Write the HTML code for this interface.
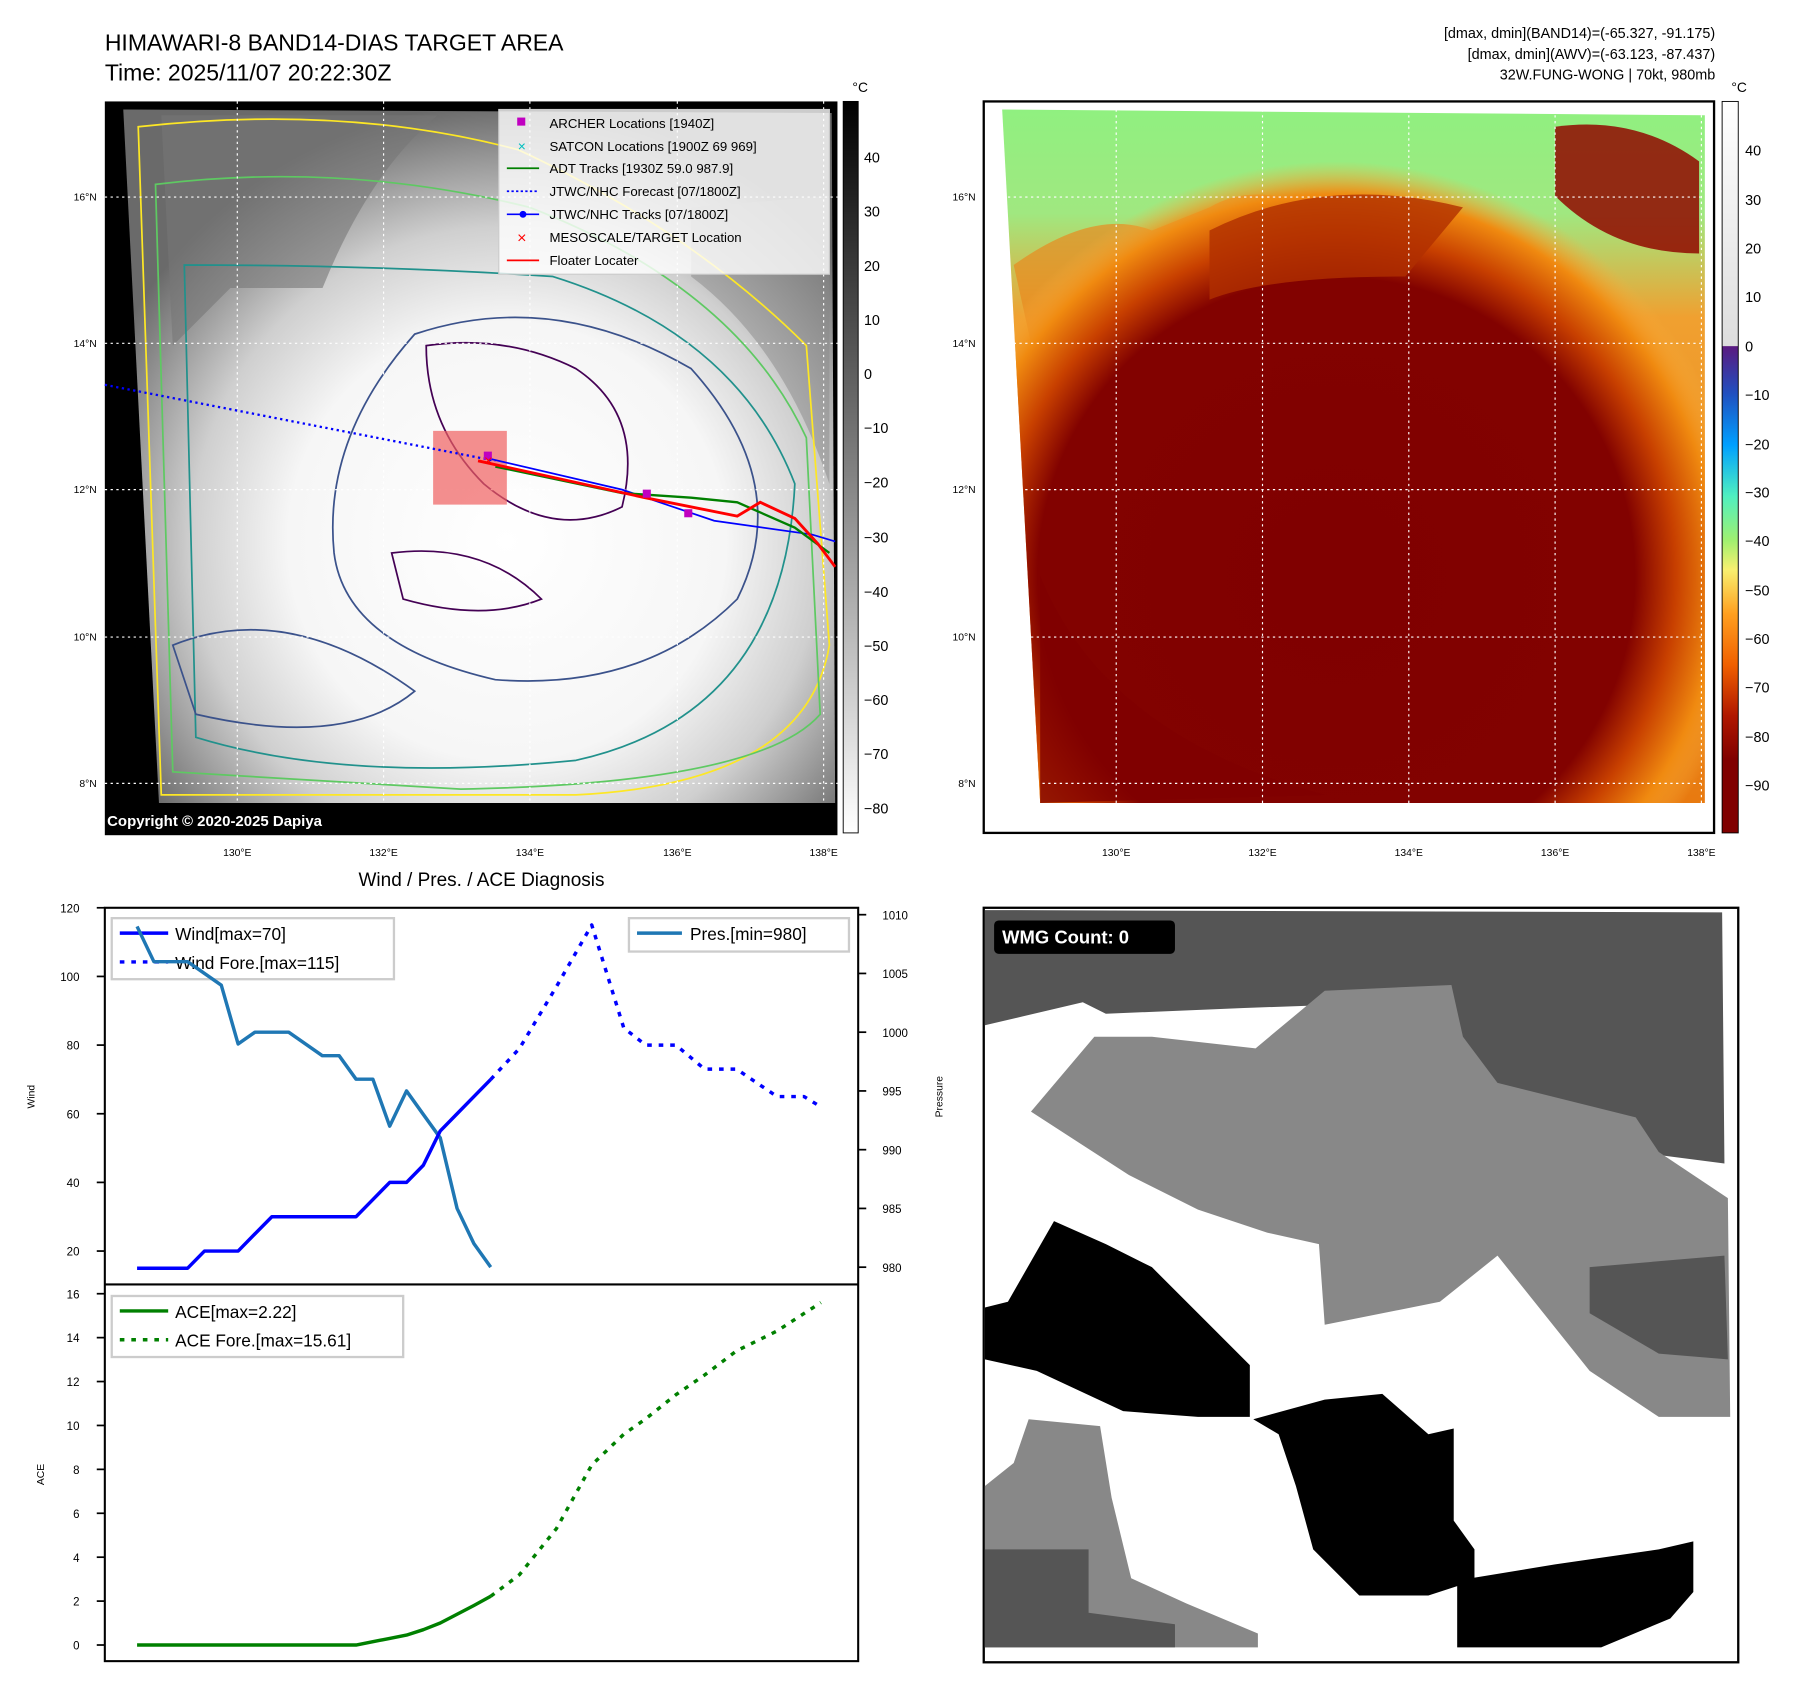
<!DOCTYPE html>
<html><head><meta charset="utf-8"><style>
html,body{margin:0;padding:0;background:#fff}
svg{display:block}
text{font-family:"Liberation Sans","DejaVu Sans",sans-serif}
</style></head><body>
<svg id="fig" xmlns="http://www.w3.org/2000/svg" width="1797" height="1690" viewBox="0 0 1560 1467">
<defs>
<radialGradient id="gsat" cx="440" cy="470" r="380" gradientUnits="userSpaceOnUse">
<stop offset="0" stop-color="#fff"/><stop offset="0.5" stop-color="#f6f6f6"/><stop offset="0.72" stop-color="#cfcfcf"/><stop offset="1" stop-color="#6a6a6a"/></radialGradient>
<linearGradient id="cbl" x1="0" y1="0" x2="0" y2="1"><stop offset="0" stop-color="#000"/><stop offset="1" stop-color="#fff"/></linearGradient>
<linearGradient id="cbr" x1="0" y1="0" x2="0" y2="1">
<stop offset="0" stop-color="#fff"/><stop offset="0.334" stop-color="#ddd"/><stop offset="0.335" stop-color="#5a1a80"/>
<stop offset="0.40" stop-color="#2050c0"/><stop offset="0.47" stop-color="#00a0ff"/><stop offset="0.54" stop-color="#50f0c0"/>
<stop offset="0.60" stop-color="#a0f070"/><stop offset="0.64" stop-color="#f8f070"/><stop offset="0.70" stop-color="#ffa020"/>
<stop offset="0.77" stop-color="#f06000"/><stop offset="0.84" stop-color="#b01800"/><stop offset="0.9" stop-color="#800000"/><stop offset="1" stop-color="#800000"/></linearGradient>
<radialGradient id="gir" cx="1160" cy="500" r="360" gradientUnits="userSpaceOnUse">
<stop offset="0" stop-color="#800000"/><stop offset="0.72" stop-color="#820200"/><stop offset="0.82" stop-color="#c84000"/><stop offset="0.92" stop-color="#f08a10"/><stop offset="1" stop-color="#f8b040" stop-opacity="0"/></radialGradient>
<linearGradient id="girtop" x1="0" y1="0" x2="0" y2="1"><stop offset="0" stop-color="#90f080"/><stop offset="0.15" stop-color="#a0e880"/><stop offset="0.3" stop-color="#f0a030"/><stop offset="1" stop-color="#e87a10"/></linearGradient>
</defs>

<g>
<text x="91" y="44" font-size="20">HIMAWARI-8 BAND14-DIAS TARGET AREA</text>
<text x="91" y="70" font-size="20">Time: 2025/11/07 20:22:30Z</text>
<rect x="91" y="88" width="636" height="637" fill="#000"/>
<polygon points="107,95 722,98 725,697 138,697" fill="url(#gsat)"/>
<path d="M140,100 L380,100 Q320,150 280,250 L200,250 L150,300 Z" fill="#777" opacity="0.6"/>
<path d="M600,180 L720,170 L720,420 Q680,300 600,240 Z" fill="#888" opacity="0.5"/>
<g fill="none" stroke-width="1.5">
<path d="M120,110 Q300,90 450,130 Q600,200 700,300 L720,560 Q700,680 500,690 L140,690 Z" stroke="#fde725"/>
<path d="M135,160 Q300,140 460,180 Q640,250 700,380 L712,620 Q660,680 400,685 L150,670 Z" stroke="#5ec962"/>
<path d="M160,230 Q330,230 480,240 Q640,290 690,420 Q680,620 500,660 Q300,680 170,640 Z" stroke="#21918c"/>
<path d="M360,290 Q480,250 600,320 Q690,420 640,520 Q560,600 430,590 Q300,560 290,480 Q280,380 360,290 Z" stroke="#3b528b"/>
<path d="M150,560 Q250,520 360,600 Q300,650 170,620 Z" stroke="#3b528b"/>
<path d="M370,300 Q440,290 500,320 Q560,360 540,440 Q480,470 420,420 Q370,370 370,300 Z" stroke="#440154"/>
<path d="M340,480 Q420,470 470,520 Q420,540 350,520 Z" stroke="#440154"/>
</g>
<g stroke="#fff" stroke-dasharray="2,3" stroke-width="1">
<line x1="206" y1="88" x2="206" y2="697"/><line x1="333" y1="88" x2="333" y2="697"/><line x1="460" y1="88" x2="460" y2="697"/><line x1="588" y1="88" x2="588" y2="697"/><line x1="715" y1="88" x2="715" y2="697"/>
<line x1="91" y1="171" x2="727" y2="171"/><line x1="91" y1="298" x2="727" y2="298"/><line x1="91" y1="425" x2="727" y2="425"/><line x1="91" y1="553" x2="727" y2="553"/><line x1="91" y1="680" x2="727" y2="680"/>
</g>
<rect x="376" y="374" width="64" height="64" fill="#f06060" opacity="0.7"/>
<line x1="91" y1="334" x2="430" y2="400" stroke="#0000ff" stroke-width="2" stroke-dasharray="2,3"/>
<polyline points="420,397 540,425 620,452 705,464 725,470" fill="none" stroke="#0000ff" stroke-width="1.5"/>
<polyline points="430,405 540,428 600,432 640,436 690,458 720,480" fill="none" stroke="#008000" stroke-width="2"/>
<polyline points="415,400 560,432 640,448 660,436 690,450 710,472 725,492" fill="none" stroke="#ff0000" stroke-width="2.5"/>
<rect x="558" y="425" width="7" height="7" fill="#c000c0"/><rect x="594" y="442" width="7" height="7" fill="#c000c0"/><rect x="420" y="392" width="7" height="7" fill="#c000c0"/>
<text x="424" y="404" font-size="13" fill="#ff0000" text-anchor="middle">×</text>
<rect x="433" y="95" width="287" height="143" fill="#fff" fill-opacity="0.8" stroke="#ccc"/>
<g font-size="11.5">
<rect x="449" y="102" width="7" height="7" fill="#c000c0"/><text x="477" y="111">ARCHER Locations [1940Z]</text>
<text x="453" y="131" fill="#00bfbf" font-size="12" text-anchor="middle">×</text><text x="477" y="131">SATCON Locations [1900Z 69 969]</text>
<line x1="440" y1="146" x2="468" y2="146" stroke="#008000" stroke-width="1.5"/><text x="477" y="150">ADT Tracks [1930Z 59.0 987.9]</text>
<line x1="440" y1="166" x2="468" y2="166" stroke="#0000ff" stroke-width="1.5" stroke-dasharray="2,2"/><text x="477" y="170">JTWC/NHC Forecast [07/1800Z]</text>
<line x1="440" y1="186" x2="468" y2="186" stroke="#0000ff" stroke-width="1.5"/><circle cx="454" cy="186" r="3" fill="#0000ff"/><text x="477" y="190">JTWC/NHC Tracks [07/1800Z]</text>
<text x="453" y="211" fill="#ff0000" font-size="14" text-anchor="middle">×</text><text x="477" y="210">MESOSCALE/TARGET Location</text>
<line x1="440" y1="226" x2="468" y2="226" stroke="#ff0000" stroke-width="1.5"/><text x="477" y="230">Floater Locater</text>
</g>
<text x="93" y="717" font-size="13" font-weight="bold" fill="#fff">Copyright © 2020-2025 Dapiya</text>
<g font-size="9" text-anchor="middle">
<text x="206" y="743">130°E</text><text x="333" y="743">132°E</text><text x="460" y="743">134°E</text><text x="588" y="743">136°E</text><text x="715" y="743">138°E</text></g>
<g font-size="9" text-anchor="end">
<text x="84" y="174">16°N</text><text x="84" y="301">14°N</text><text x="84" y="428">12°N</text><text x="84" y="556">10°N</text><text x="84" y="683">8°N</text></g>
<rect x="732" y="88" width="13" height="635" fill="url(#cbl)" stroke="#000" stroke-width="0.8"/>
<text x="740" y="80" font-size="12">°C</text>
<g font-size="12.5">
<text x="750" y="141">40</text><text x="750" y="188">30</text><text x="750" y="235">20</text><text x="750" y="282">10</text><text x="750" y="329">0</text><text x="750" y="376">−10</text><text x="750" y="423">−20</text><text x="750" y="471">−30</text><text x="750" y="518">−40</text><text x="750" y="565">−50</text><text x="750" y="612">−60</text><text x="750" y="659">−70</text><text x="750" y="706">−80</text></g>
</g>

<g>
<g font-size="12.5" text-anchor="end">
<text x="1489" y="33">[dmax, dmin](BAND14)=(-65.327, -91.175)</text>
<text x="1489" y="51">[dmax, dmin](AWV)=(-63.123, -87.437)</text>
<text x="1489" y="69">32W.FUNG-WONG | 70kt, 980mb</text></g>
<rect x="854" y="88" width="634" height="635" fill="#fff" stroke="#000" stroke-width="2"/>
<polygon points="870,95 1480,100 1480,697 903,697" fill="url(#girtop)"/>
<path d="M880,230 Q950,180 1000,200 L1050,180 Q1100,150 1180,200 L1000,300 L900,320 Z" fill="#e88a20" opacity="0.7"/>
<polygon points="870,95 1480,100 1480,697 903,697" fill="url(#gir)"/>
<path d="M903,500 Q960,640 1150,690 L903,697 Z" fill="#800000" opacity="0.8"/>
<path d="M1050,200 Q1150,150 1270,180 L1220,240 Q1100,240 1050,260 Z" fill="#b03000" opacity="0.8"/>
<path d="M1350,110 Q1420,100 1475,140 L1475,220 Q1400,220 1350,170 Z" fill="#900800" opacity="0.85"/>
<g stroke="#fff" stroke-dasharray="2,3" stroke-width="1">
<line x1="969" y1="95" x2="969" y2="697"/><line x1="1096" y1="95" x2="1096" y2="697"/><line x1="1223" y1="95" x2="1223" y2="697"/><line x1="1350" y1="95" x2="1350" y2="697"/><line x1="1477" y1="95" x2="1477" y2="697"/>
<line x1="870" y1="171" x2="1480" y2="171"/><line x1="870" y1="298" x2="1480" y2="298"/><line x1="870" y1="425" x2="1480" y2="425"/><line x1="870" y1="553" x2="1480" y2="553"/><line x1="870" y1="680" x2="1480" y2="680"/></g>
<g font-size="9" text-anchor="middle">
<text x="969" y="743">130°E</text><text x="1096" y="743">132°E</text><text x="1223" y="743">134°E</text><text x="1350" y="743">136°E</text><text x="1477" y="743">138°E</text></g>
<g font-size="9" text-anchor="end">
<text x="847" y="174">16°N</text><text x="847" y="301">14°N</text><text x="847" y="428">12°N</text><text x="847" y="556">10°N</text><text x="847" y="683">8°N</text></g>
<rect x="1495" y="88" width="14" height="635" fill="url(#cbr)" stroke="#000" stroke-width="0.8"/>
<text x="1503" y="80" font-size="12">°C</text>
<g font-size="12.5"><text x="1515" y="135">40</text><text x="1515" y="178">30</text><text x="1515" y="220">20</text><text x="1515" y="262">10</text><text x="1515" y="305">0</text><text x="1515" y="347">−10</text><text x="1515" y="390">−20</text><text x="1515" y="432">−30</text><text x="1515" y="474">−40</text><text x="1515" y="517">−50</text><text x="1515" y="559">−60</text><text x="1515" y="601">−70</text><text x="1515" y="644">−80</text><text x="1515" y="686">−90</text></g>
</g>

<g>
<rect x="854" y="788" width="655" height="655" fill="#fff" stroke="#000" stroke-width="2"/>
<polygon points="855,790 1495,792 1497,1010 1420,1000 1300,960 1260,890 1220,870 1080,875 960,880 940,870 855,890" fill="#555"/>
<polygon points="895,965 950,900 1000,900 1090,910 1150,860 1260,855 1270,900 1300,940 1420,970 1440,1000 1500,1040 1502,1230 1440,1230 1380,1190 1340,1140 1300,1090 1250,1130 1150,1150 1145,1080 1100,1070 1040,1050 980,1020" fill="#888"/>
<polygon points="1380,1100 1497,1090 1500,1180 1440,1175 1380,1140" fill="#555"/>
<polygon points="855,1135 875,1130 915,1060 960,1080 1000,1100 1040,1140 1085,1185 1085,1230 1040,1230 975,1225 900,1190 855,1180" fill="#000"/>
<polygon points="1088,1232 1150,1215 1200,1210 1240,1245 1262,1240 1262,1320 1280,1345 1280,1372 1240,1385 1180,1385 1140,1345 1125,1290 1110,1245" fill="#000"/>
<polygon points="1265,1372 1350,1358 1440,1345 1470,1338 1470,1382 1450,1405 1390,1430 1265,1430" fill="#000"/>
<polygon points="855,1290 880,1270 893,1232 955,1238 965,1300 982,1370 1030,1392 1092,1418 1092,1430 855,1430" fill="#888"/>
<polygon points="855,1345 945,1345 945,1400 1020,1410 1020,1430 855,1430" fill="#555"/>
<rect x="863" y="799" width="157" height="29" rx="4" fill="#000"/>
<text x="870" y="819" font-size="16" font-weight="bold" fill="#fff">WMG Count: 0</text>
</g>

<g id="chart">
<text x="418" y="769" font-size="16.5" text-anchor="middle">Wind / Pres. / ACE Diagnosis</text>
<rect x="91" y="788" width="654" height="654" fill="none" stroke="#000" stroke-width="1.8"/>
<line x1="91" y1="1115" x2="745" y2="1115" stroke="#000" stroke-width="1.8"/>
<text transform="translate(30,952) rotate(-90)" font-size="9" text-anchor="middle">Wind</text>
<text transform="translate(818,952) rotate(-90)" font-size="9" text-anchor="middle">Pressure</text>
<text transform="translate(38,1280) rotate(-90)" font-size="9" text-anchor="middle">ACE</text>
<rect x="97" y="797" width="245" height="53" fill="#fff" fill-opacity="0.8" stroke="#ccc" stroke-width="2"/>
<line x1="104" y1="810" x2="146" y2="810" stroke="#0000ff" stroke-width="3"/><text x="152" y="816" font-size="15">Wind[max=70]</text>
<line x1="104" y1="835" x2="146" y2="835" stroke="#0000ff" stroke-width="3" stroke-dasharray="4,6"/><text x="152" y="841" font-size="15">Wind Fore.[max=115]</text>
<rect x="546" y="797" width="191" height="29" fill="#fff" fill-opacity="0.8" stroke="#ccc" stroke-width="2"/>
<line x1="553" y1="810" x2="592" y2="810" stroke="#1f77b4" stroke-width="3"/><text x="599" y="816" font-size="15">Pres.[min=980]</text>
<rect x="97" y="1125" width="253" height="53" fill="#fff" fill-opacity="0.8" stroke="#ccc" stroke-width="2"/>
<line x1="104" y1="1138" x2="146" y2="1138" stroke="#008000" stroke-width="3"/><text x="152" y="1144" font-size="15">ACE[max=2.22]</text>
<line x1="104" y1="1163" x2="146" y2="1163" stroke="#008000" stroke-width="3" stroke-dasharray="4,6"/><text x="152" y="1169" font-size="15">ACE Fore.[max=15.61]</text>
</g>
</svg>
<script>
const windObs = [15,15,15,15,20,20,20,25,30,30,30,30,30,30,35,40,40,45,55,60,65,70];
const presObs = [1009,1006,1006,1006,1005,1004,999,1000,1000,1000,999,998,998,996,996,992,995,993,991,985,982,980];
const aceObs = [0,0,0,0,0,0,0,0,0,0,0,0,0,0,0.15,0.3,0.45,0.7,1.0,1.4,1.8,2.22];
const foreIdx = [21,22.7,24.9,27,28.9,30.2,32,33.7,35.6,38,39.6,40.6];
const windFore = [70,79,97,115,85,80,80,73,73,65,65,62];
const aceFore = [2.22,3.2,5.3,8.2,9.6,10.3,11.4,12.3,13.4,14.3,15.1,15.6];
const windTicks = [20,40,60,80,100,120];
const presTicks = [980,985,990,995,1000,1005,1010];
const aceTicks = [0,2,4,6,8,10,12,14,16];

const NS='http://www.w3.org/2000/svg';
const chart=document.getElementById('chart');
const xS=i=>119+i*14.62;
const yW=v=>788+(120-v)*2.98;
const yP=p=>794+(1010-p)*10.2;
const yA=a=>1428-a*19.06;
function mk(tag,attrs){const e=document.createElementNS(NS,tag);for(const k in attrs)e.setAttribute(k,attrs[k]);chart.appendChild(e);return e;}
function line(xs,ys,color,dash){
  const pts=xs.map((x,i)=>x.toFixed(1)+','+ys[i].toFixed(1)).join(' ');
  const a={points:pts,fill:'none',stroke:color,'stroke-width':3,'stroke-linejoin':'round'};
  if(dash)a['stroke-dasharray']='4,6';
  return mk('polyline',a);
}
const obsIdx=windObs.map((_,i)=>i);
let el;
el=line(obsIdx.map(xS),presObs.map(yP),'#1f77b4');


el=line(obsIdx.map(xS),windObs.map(yW),'#0000ff');


el=line(foreIdx.map(xS),windFore.map(yW),'#0000ff',true);


el=line(obsIdx.map(xS),aceObs.map(yA),'#008000');


el=line(foreIdx.map(xS),aceFore.map(yA),'#008000',true);


windTicks.forEach(v=>{
  mk('line',{x1:84,x2:91,y1:yW(v),y2:yW(v),stroke:'#000','stroke-width':1.5});
  el=mk('text',{x:69,y:yW(v)+4,'font-size':10,'text-anchor':'end'});el.textContent=v;
  
  
});
presTicks.forEach(v=>{
  mk('line',{x1:745,x2:752,y1:yP(v),y2:yP(v),stroke:'#000','stroke-width':1.5});
  el=mk('text',{x:766,y:yP(v)+4,'font-size':10});el.textContent=v;
  
  
});
aceTicks.forEach(v=>{
  mk('line',{x1:84,x2:91,y1:yA(v),y2:yA(v),stroke:'#000','stroke-width':1.5});
  el=mk('text',{x:69,y:yA(v)+4,'font-size':10,'text-anchor':'end'});el.textContent=v;
  
  
});
</script>
</body></html>
